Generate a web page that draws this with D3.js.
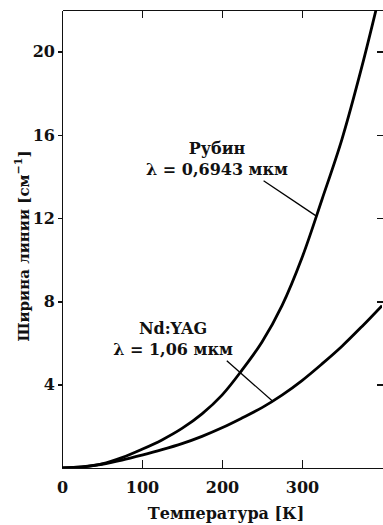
<!DOCTYPE html>
<head>
  <meta charset="utf-8">
  <script src="https://d3js.org/d3.v7.min.js"></script>
  <style>
    body { margin: 0; background: #fff; }
    svg { display: block; }
    .axis text { font: bold 16px "DejaVu Serif", serif; fill: #111; }
    .axis path, .axis line { stroke: #111; stroke-width: 1.6; shape-rendering: crispEdges; }
    .lbl { font: bold 16px "DejaVu Serif", serif; fill: #111; }
    .ytitle { font: bold 15px "DejaVu Serif", serif; fill: #111; }
    .curve { fill: none; stroke: #000; stroke-width: 2.8; }
    .leader { stroke: #000; stroke-width: 1.3; }
  </style>
</head>
<body>
<script>

// temperature, K
var temps = [0, 25, 50, 75, 100, 125, 150, 175, 200, 225, 250, 275, 300, 325, 350, 375, 400];
// line width, cm^-1
var ruby  = [0, 0.05, 0.2, 0.5, 0.9, 1.35, 1.9, 2.6, 3.5, 4.7, 6.05, 7.8, 10.1, 12.9, 15.8, 19.3, 23.2];
var ndyag = [0, 0.05, 0.18, 0.38, 0.62, 0.88, 1.17, 1.52, 1.93, 2.4, 2.9, 3.5, 4.2, 5.0, 5.85, 6.8, 7.8];

var xTicks = [0, 100, 200, 300];
var yTicks = [4, 8, 12, 16, 20];

var width = 383, height = 525;
var margin = {top: 10, right: 1, bottom: 57, left: 62};

var x = d3.scaleLinear().domain([0, 400]).range([margin.left, width - margin.right]);
var y = d3.scaleLinear().domain([0, 22]).range([height - margin.bottom, margin.top]);

var svg = d3.select("body").append("svg")
    .attr("width", width)
    .attr("height", height);

svg.append("defs").append("clipPath").attr("id", "clip")
  .append("rect")
    .attr("x", x(0)).attr("y", y(22))
    .attr("width", x(400) - x(0)).attr("height", y(0) - y(22));

// bottom
var gx = svg.append("g").attr("class", "x axis")
    .attr("transform", "translate(0," + y(0) + ")")
    .call(d3.axisBottom(x).tickValues(xTicks).tickSize(-8).tickSizeOuter(0).tickPadding(14).tickFormat(d3.format("d")));
gx.selectAll(".tick line").filter(function(d) { return d === 0; }).remove();

// top
svg.append("g").attr("class", "axis")
    .attr("transform", "translate(0," + y(22) + ")")
    .call(d3.axisTop(x).tickValues([100, 200, 300]).tickSize(-8).tickSizeOuter(0).tickFormat(""));

// left
svg.append("g").attr("class", "y axis")
    .attr("transform", "translate(" + x(0) + ",0)")
    .call(d3.axisLeft(y).tickValues(yTicks).tickSize(4).tickSizeOuter(0).tickPadding(3));

// right (frame line falls just outside the picture)
svg.append("g").attr("class", "axis")
    .attr("transform", "translate(" + (x(400) + 1.5) + ",0)")
    .call(d3.axisRight(y).tickValues(yTicks).tickSize(-7).tickSizeOuter(0).tickFormat(""));

var line = d3.line()
    .x(function(d, i) { return x(temps[i]); })
    .y(function(d) { return y(d); })
    .curve(d3.curveCatmullRom.alpha(0.5));

var plot = svg.append("g").attr("clip-path", "url(#clip)");
plot.append("path").attr("class", "curve").attr("d", line(ruby));
plot.append("path").attr("class", "curve").attr("d", line(ndyag));

// leader lines
svg.append("line").attr("class", "leader")
    .attr("x1", x(252)).attr("y1", y(13.8))
    .attr("x2", x(318)).attr("y2", y(12.1));
svg.append("line").attr("class", "leader")
    .attr("x1", x(206)).attr("y1", y(5.15))
    .attr("x2", x(263)).attr("y2", y(3.22));

// curve labels
svg.append("text").attr("class", "lbl").attr("text-anchor", "middle")
    .attr("x", 217).attr("y", 154).text("Рубин");
svg.append("text").attr("class", "lbl").attr("text-anchor", "middle")
    .attr("x", 217).attr("y", 175).text("λ = 0,6943 мкм");
svg.append("text").attr("class", "lbl").attr("text-anchor", "middle")
    .attr("x", 173).attr("y", 334).text("Nd:YAG");
svg.append("text").attr("class", "lbl").attr("text-anchor", "middle")
    .attr("x", 173).attr("y", 355).text("λ = 1,06 мкм");

// axis titles
svg.append("text").attr("class", "lbl").attr("text-anchor", "middle")
    .attr("x", 226).attr("y", 519).text("Температура [К]");

var yl = svg.append("text").attr("class", "ytitle").attr("text-anchor", "middle")
    .attr("transform", "translate(29,246) rotate(-90)");
yl.append("tspan").text("Ширина линии [см");
yl.append("tspan").attr("dy", -7).style("font-size", "11px").text("−1");
yl.append("tspan").attr("dy", 7).text("]");

</script>
</body>
